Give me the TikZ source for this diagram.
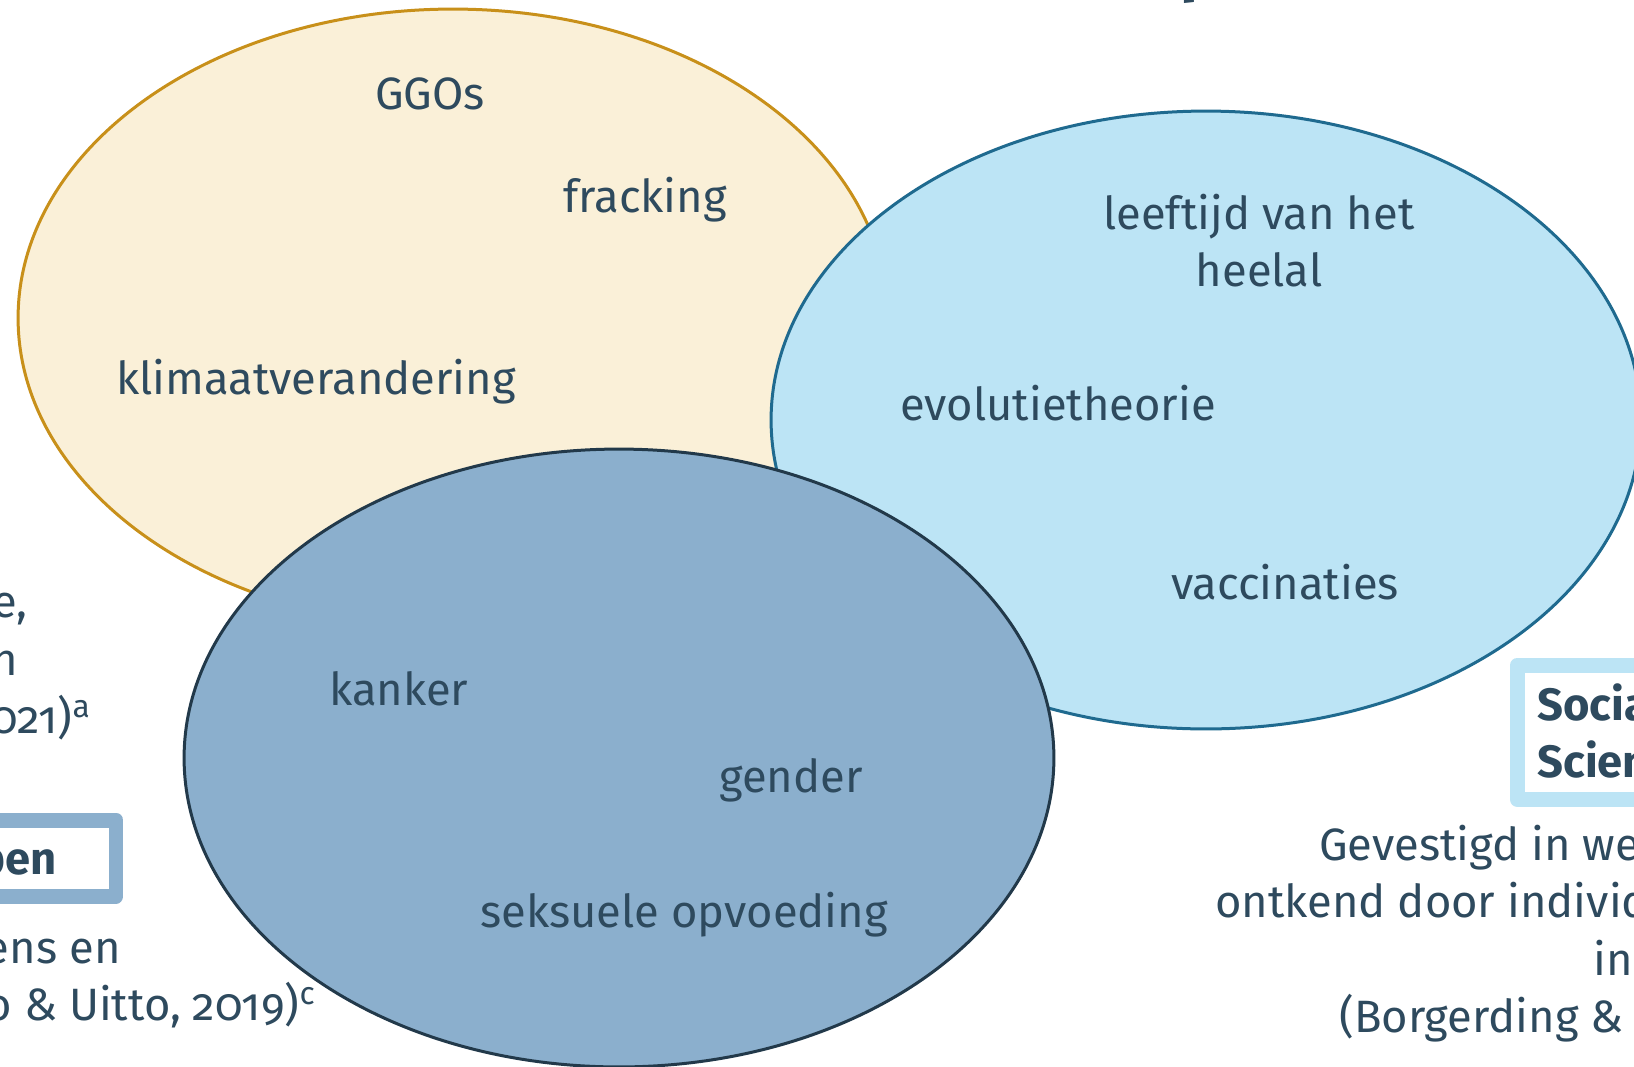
\documentclass[tikz,border=0pt]{standalone}
\usepackage{fontspec}
\setmainfont{Fira Sans}[Numbers=OldStyle]
\usepackage{xcolor}
\usepackage{tikz}
\usetikzlibrary{shapes.geometric}

\definecolor{inkblue}{HTML}{2E4A5E}
\definecolor{goldline}{HTML}{C8901A}
\definecolor{goldfill}{HTML}{FAF0D8}
\definecolor{skyline}{HTML}{1F6A8F}
\definecolor{skyfill}{HTML}{BCE4F5}
\definecolor{steelline}{HTML}{22394A}
\definecolor{steelfill}{HTML}{8BAFCD}

\begin{document}
\begin{tikzpicture}[x=0.02cm, y=-0.02cm,
  topicset/.style={ellipse, inner sep=0pt, minimum width=17.4cm, minimum height=12.36cm, line width=0.06cm},
  topic/.style={font=\fontsize{25.8}{31}\selectfont, text=inkblue, inner sep=0pt},
  boxtitle/.style={font=\bfseries\fontsize{25.8}{31}\selectfont, text=inkblue, inner sep=0pt},
  boxframe/.style={line width=0.3cm, line join=round}]
\useasboundingbox (0,0) rectangle (1634,1066);
\clip (0,0) rectangle (1634,1066);
\fill[white] (0,0) rectangle (1634,1066);

\node[topicset, draw=goldline, fill=goldfill] (physical) at (453,318) {};
\node[topicset, draw=skyline, fill=skyfill] (socially) at (1206,420) {};
\node[topicset, draw=steelline, fill=steelfill] (sensitive) at (619,758) {};

\node[topic, anchor=base] (ggos) at (430,109) {GGOs};
\node[topic, anchor=base] (fracking) at (645,212) {fracking};
\node[topic, anchor=base] (klimaat) at (316,394) {klimaatverandering};
\node[topic, anchor=base] (leeftijd) at (1259,229) {leeftijd van het};
\node[topic, anchor=base] (heelal) at (1259,286) {heelal};
\node[topic, anchor=base] (evolutie) at (1058,420) {evolutietheorie};
\node[topic, anchor=base] (vaccin) at (1285,599) {vaccinaties};
\node[topic, anchor=base] (kanker) at (399,705) {kanker};
\node[topic, anchor=base] (gender) at (791,792) {gender};
\node[topic, anchor=base] (seksueel) at (684,927) {seksuele opvoeding};

\node[boxtitle, anchor=base west] (title) at (1180,-11) {\fontsize{36}{40}\selectfont p};

\node[topic, anchor=base east] (leftone) at (28,617) {e,};
\node[topic, anchor=base east] (lefttwo) at (18,675) {n};
\node[topic, anchor=base east] (leftthree) at (91,733) {2021)\textsuperscript{a}};
\draw[boxframe, draw=steelfill] (-40,820) rectangle (116,896);
\node[boxtitle, anchor=base east] (lefttitle) at (57,874) {pen};
\node[topic, anchor=base east] (leftfour) at (121,963) {ens en};
\node[topic, anchor=base east] (leftfive) at (316,1020) {o \& Uitto, 2019)\textsuperscript{c}};

\draw[boxframe, draw=skyfill] (1517.5,665) rectangle (1680,799.5);
\node[boxtitle, anchor=base west] (righttitle) at (1537,720) {Socia};
\node[boxtitle, anchor=base west] (rightsub) at (1537,777) {Scien};
\node[topic, anchor=base west] (rightone) at (1319,860) {Gevestigd in we};
\node[topic, anchor=base west] (righttwo) at (1215,917) {ontkend door individ};
\node[topic, anchor=base west] (rightthree) at (1593,975) {in};
\node[topic, anchor=base west] (rightfour) at (1339,1032) {(Borgerding \& D};
\end{tikzpicture}
\end{document}
